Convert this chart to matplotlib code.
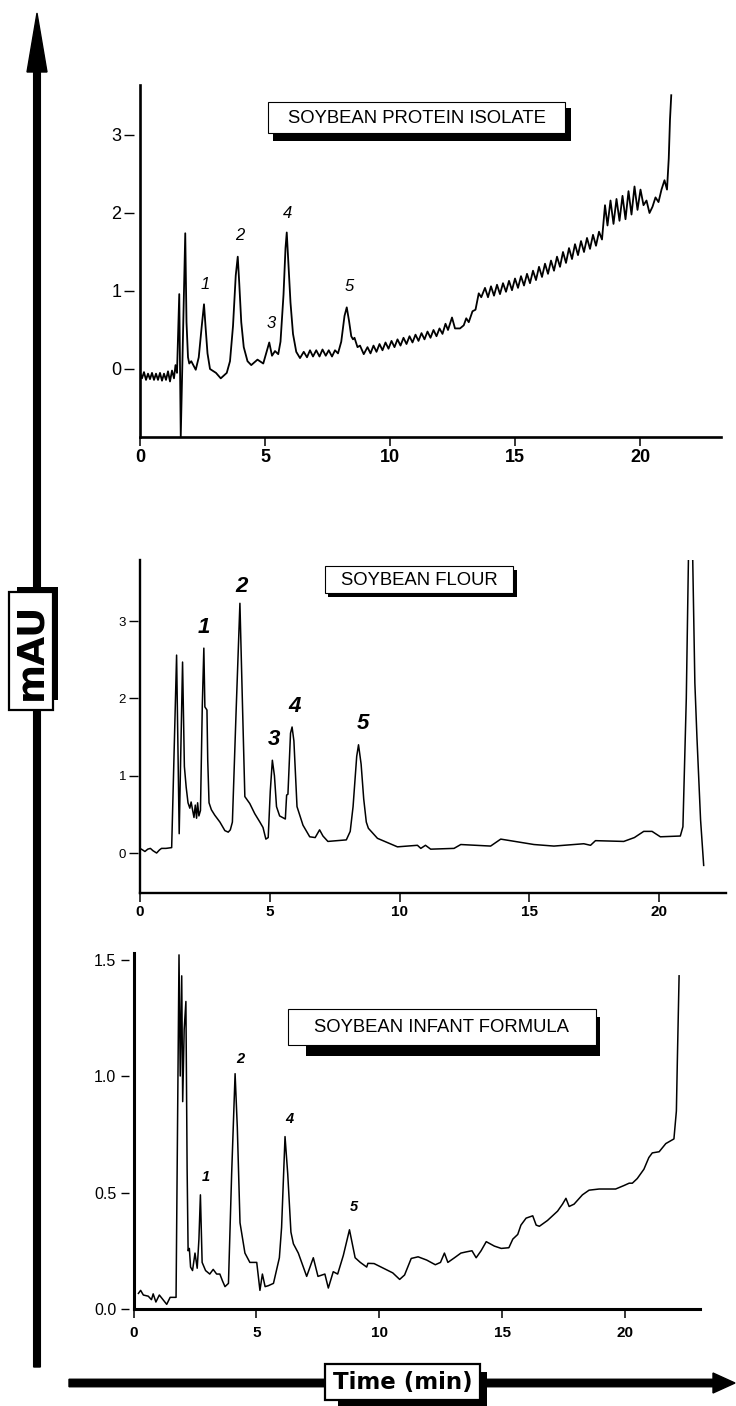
import matplotlib
matplotlib.use("Agg")
import matplotlib.pyplot as plt
from matplotlib import font_manager
from matplotlib.patches import Rectangle, FancyArrow

plt.rcParams['font.family'] = ['Liberation Sans', 'DejaVu Sans']

W, H = 736, 1406

# traces: (time [min], absorbance [mAU])
protein_trace = [
    (0.00, -0.05), (0.08, -0.12), (0.16, -0.04), (0.24, -0.14), (0.32, -0.06), (0.40, -0.13),
    (0.48, -0.05), (0.56, -0.14), (0.64, -0.06), (0.72, -0.14), (0.80, -0.05), (0.88, -0.15),
    (0.96, -0.06), (1.04, -0.14), (1.12, -0.03), (1.20, -0.16), (1.28, -0.02), (1.36, -0.12),
    (1.42, 0.05), (1.48, -0.05), (1.57, 0.96), (1.63, -0.87), (1.81, 1.74), (1.86, 0.60),
    (1.92, 0.15), (1.97, 0.07), (2.05, 0.10), (2.13, 0.05), (2.23, -0.01), (2.35, 0.15),
    (2.47, 0.55), (2.56, 0.83), (2.62, 0.55), (2.70, 0.20), (2.80, 0.00), (3.04, -0.05),
    (3.23, -0.12), (3.47, -0.05), (3.60, 0.10), (3.72, 0.55), (3.83, 1.20), (3.91, 1.44),
    (3.97, 1.10), (4.05, 0.60), (4.15, 0.28), (4.30, 0.10), (4.45, 0.05), (4.70, 0.12),
    (4.93, 0.07), (5.17, 0.34), (5.28, 0.17), (5.40, 0.23), (5.53, 0.19), (5.62, 0.35),
    (5.74, 0.95), (5.82, 1.55), (5.87, 1.75), (5.93, 1.40), (6.02, 0.85), (6.12, 0.45),
    (6.25, 0.22), (6.40, 0.14), (6.55, 0.22), (6.68, 0.15), (6.80, 0.24), (6.92, 0.16),
    (7.05, 0.24), (7.18, 0.16), (7.30, 0.25), (7.43, 0.17), (7.55, 0.24), (7.68, 0.16),
    (7.80, 0.24), (7.92, 0.20), (8.05, 0.35), (8.18, 0.68), (8.27, 0.79), (8.36, 0.62),
    (8.45, 0.42), (8.52, 0.38), (8.58, 0.40), (8.70, 0.28), (8.80, 0.30), (8.95, 0.19),
    (9.10, 0.28), (9.22, 0.20), (9.34, 0.30), (9.46, 0.22), (9.58, 0.32), (9.70, 0.24),
    (9.82, 0.34), (9.94, 0.26), (10.06, 0.36), (10.18, 0.28), (10.30, 0.38), (10.42, 0.30),
    (10.54, 0.40), (10.66, 0.32), (10.78, 0.42), (10.90, 0.34), (11.02, 0.44), (11.14, 0.36),
    (11.26, 0.46), (11.38, 0.38), (11.50, 0.48), (11.62, 0.40), (11.74, 0.50), (11.86, 0.42),
    (11.98, 0.52), (12.10, 0.45), (12.22, 0.58), (12.32, 0.50), (12.48, 0.66), (12.60, 0.52),
    (12.80, 0.52), (12.95, 0.56), (13.05, 0.65), (13.15, 0.60), (13.30, 0.74), (13.42, 0.76),
    (13.55, 0.97), (13.65, 0.92), (13.80, 1.04), (13.92, 0.92), (14.04, 1.06), (14.16, 0.94),
    (14.28, 1.08), (14.40, 0.96), (14.52, 1.10), (14.64, 0.99), (14.76, 1.13), (14.88, 1.01),
    (15.00, 1.16), (15.12, 1.04), (15.24, 1.19), (15.36, 1.07), (15.48, 1.22), (15.60, 1.10),
    (15.72, 1.26), (15.84, 1.14), (15.96, 1.31), (16.08, 1.18), (16.20, 1.35), (16.32, 1.22),
    (16.44, 1.39), (16.56, 1.26), (16.68, 1.44), (16.80, 1.31), (16.92, 1.50), (17.04, 1.36),
    (17.16, 1.55), (17.28, 1.41), (17.40, 1.60), (17.52, 1.46), (17.64, 1.64), (17.76, 1.50),
    (17.88, 1.68), (18.00, 1.54), (18.12, 1.72), (18.24, 1.58), (18.36, 1.76), (18.48, 1.66),
    (18.60, 2.10), (18.70, 1.84), (18.82, 2.16), (18.94, 1.86), (19.06, 2.18), (19.18, 1.90),
    (19.30, 2.22), (19.42, 1.92), (19.54, 2.28), (19.66, 1.98), (19.78, 2.34), (19.90, 2.04),
    (20.02, 2.30), (20.14, 2.10), (20.26, 2.16), (20.38, 2.00), (20.50, 2.08), (20.62, 2.20),
    (20.74, 2.14), (20.86, 2.30), (20.98, 2.42), (21.08, 2.30), (21.15, 2.70), (21.20, 3.20),
    (21.25, 3.51),
]

flour_trace = [
    (0.00, 0.06), (0.10, 0.04), (0.19, 0.02), (0.30, 0.05), (0.40, 0.06), (0.50, 0.03),
    (0.64, 0.00), (0.75, 0.04), (0.83, 0.06), (1.00, 0.06), (1.22, 0.07), (1.41, 2.56),
    (1.51, 0.25), (1.64, 2.47), (1.71, 1.12), (1.78, 0.85), (1.85, 0.65), (1.92, 0.58),
    (1.97, 0.66), (2.03, 0.55), (2.08, 0.46), (2.13, 0.62), (2.18, 0.45), (2.22, 0.65),
    (2.27, 0.48), (2.33, 0.55), (2.40, 1.90), (2.46, 2.65), (2.50, 1.89), (2.58, 1.85),
    (2.61, 1.20), (2.66, 0.65), (2.75, 0.56), (2.88, 0.49), (3.08, 0.40), (3.27, 0.29),
    (3.40, 0.27), (3.48, 0.30), (3.56, 0.40), (3.70, 1.80), (3.85, 3.23), (3.95, 1.90),
    (4.04, 0.73), (4.23, 0.64), (4.42, 0.51), (4.62, 0.40), (4.74, 0.33), (4.85, 0.18),
    (4.94, 0.20), (5.02, 0.80), (5.10, 1.20), (5.18, 1.00), (5.26, 0.60), (5.38, 0.48),
    (5.60, 0.44), (5.65, 0.75), (5.70, 0.76), (5.80, 1.55), (5.86, 1.63), (5.93, 1.45),
    (6.05, 0.60), (6.28, 0.36), (6.54, 0.21), (6.75, 0.20), (6.92, 0.30), (7.05, 0.22),
    (7.24, 0.15), (7.95, 0.17), (8.10, 0.28), (8.21, 0.60), (8.35, 1.25), (8.42, 1.40),
    (8.52, 1.15), (8.62, 0.70), (8.72, 0.40), (8.80, 0.32), (9.15, 0.19), (9.92, 0.08),
    (10.69, 0.10), (10.82, 0.06), (11.00, 0.10), (11.20, 0.05), (12.10, 0.06), (12.36, 0.11),
    (13.51, 0.09), (13.90, 0.18), (15.18, 0.11), (15.95, 0.09), (17.10, 0.12), (17.36, 0.10),
    (17.55, 0.16), (18.64, 0.15), (19.05, 0.20), (19.41, 0.28), (19.73, 0.28), (20.05, 0.21),
    (20.82, 0.22), (20.92, 0.34), (21.05, 2.00), (21.21, 5.50), (21.38, 2.20), (21.46, 1.50),
    (21.60, 0.43), (21.72, -0.16),
]

infant_trace = [
    (0.20, 0.067), (0.29, 0.08), (0.40, 0.06), (0.60, 0.055), (0.73, 0.04), (0.80, 0.065),
    (0.91, 0.03), (1.05, 0.06), (1.20, 0.04), (1.35, 0.02), (1.49, 0.05), (1.73, 0.05),
    (1.85, 1.52), (1.90, 1.00), (1.96, 1.43), (2.00, 0.89), (2.06, 1.20), (2.13, 1.32),
    (2.18, 0.60), (2.22, 0.25), (2.27, 0.26), (2.32, 0.18), (2.40, 0.165), (2.50, 0.24),
    (2.59, 0.175), (2.66, 0.30), (2.72, 0.49), (2.79, 0.20), (2.93, 0.165), (3.10, 0.15),
    (3.24, 0.17), (3.38, 0.15), (3.51, 0.15), (3.62, 0.12), (3.72, 0.096), (3.86, 0.11),
    (3.99, 0.58), (4.13, 1.01), (4.22, 0.78), (4.33, 0.37), (4.53, 0.24), (4.73, 0.20),
    (5.01, 0.20), (5.14, 0.08), (5.24, 0.15), (5.35, 0.096), (5.48, 0.10), (5.69, 0.11),
    (5.93, 0.22), (6.02, 0.35), (6.16, 0.74), (6.27, 0.58), (6.40, 0.33), (6.50, 0.28),
    (6.70, 0.24), (7.04, 0.14), (7.31, 0.22), (7.50, 0.14), (7.78, 0.15), (7.92, 0.09),
    (8.12, 0.16), (8.30, 0.15), (8.53, 0.23), (8.78, 0.34), (9.01, 0.22), (9.22, 0.20),
    (9.48, 0.18), (9.53, 0.196), (9.78, 0.195), (10.54, 0.155), (10.82, 0.127), (11.02, 0.146),
    (11.29, 0.217), (11.57, 0.224), (11.92, 0.21), (12.27, 0.19), (12.48, 0.20), (12.64, 0.24),
    (12.78, 0.20), (13.05, 0.22), (13.31, 0.24), (13.52, 0.245), (13.76, 0.25), (13.93, 0.22),
    (14.13, 0.25), (14.34, 0.289), (14.67, 0.27), (14.95, 0.26), (15.26, 0.263), (15.42, 0.30),
    (15.62, 0.32), (15.75, 0.36), (15.96, 0.39), (16.23, 0.40), (16.37, 0.36), (16.50, 0.355),
    (16.83, 0.38), (17.24, 0.42), (17.44, 0.45), (17.58, 0.475), (17.71, 0.44), (17.91, 0.45),
    (18.25, 0.49), (18.52, 0.51), (18.93, 0.515), (19.60, 0.515), (19.94, 0.53), (20.15, 0.54),
    (20.28, 0.54), (20.48, 0.56), (20.75, 0.60), (20.95, 0.65), (21.09, 0.67), (21.37, 0.675),
    (21.64, 0.71), (21.97, 0.73), (22.07, 0.85), (22.11, 1.07), (22.18, 1.43),
]

# peak numbers: (time, mAU, label)
protein_peaks = [(2.60, 1.08, "1"), (4.00, 1.71, "2"), (5.24, 0.58, "3"), (5.92, 1.99, "4"), (8.36, 1.06, "5")]
flour_peaks = [(2.47, 2.92, "1"), (3.93, 3.45, "2"), (5.16, 1.47, "3"), (5.97, 1.90, "4"), (8.59, 1.68, "5")]
infant_peaks = [(2.95, 0.567, "1"), (4.33, 1.073, "2"), (6.32, 0.815, "4"), (8.96, 0.438, "5")]

x_ticks = [0, 5, 10, 15, 20]
protein_yticks = [0, 1, 2, 3]
flour_yticks = [0, 1, 2, 3]
infant_yticks = [0.0, 0.5, 1.0, 1.5]

fig = plt.figure(figsize=(W / 100, H / 100), dpi=100)
fig.patch.set_facecolor('white')

have_narrow = 'Liberation Sans Narrow' in {f.name for f in font_manager.fontManager.ttflist}
if have_narrow:
    box_font = dict(family='Liberation Sans Narrow', fontsize=16)
else:
    box_font = dict(family='Liberation Sans', fontsize=13.3)


def fx(px):
    return px / W


def fy(py):
    return 1 - py / H


def panel(left, right, top, bottom, xmax, ymin, ymax, trace, yticks, ylabels,
          gap, ylen, ysize, ypad, xsize, xpad, spine_lw, line_lw):
    ax = fig.add_axes([fx(left), fy(bottom), fx(right) - fx(left), fy(top) - fy(bottom)])
    t, v = zip(*trace)
    ax.plot(t, v, color='black', lw=line_lw, solid_joinstyle='round')
    ax.set_xlim(0, xmax)
    ax.set_ylim(ymin, ymax)
    ax.spines[['top', 'right']].set_visible(False)
    ax.spines['bottom'].set_linewidth(spine_lw)
    ax.spines['left'].set_position(('outward', gap))
    ax.spines['left'].set_visible(False)
    ax.axvline(0, color='black', lw=spine_lw, clip_on=False)
    ax.set_xticks(x_ticks, [str(x) for x in x_ticks], fontweight='bold', fontsize=xsize)
    ax.set_yticks(yticks, ylabels, fontsize=ysize)
    ax.tick_params(axis='x', direction='out', length=6.5, width=1.1, pad=xpad)
    ax.tick_params(axis='y', direction='out', length=ylen, width=1.0, pad=ypad)
    ax.patch.set_alpha(0)
    return ax


ax1 = panel(140, 721, 85, 437, 23.24, -0.872, 3.641, protein_trace, protein_yticks,
            [str(y) for y in protein_yticks], gap=4.3, ylen=7.2, ysize=13, ypad=2,
            xsize=13, xpad=2, spine_lw=1.9, line_lw=1.3)
ax2 = panel(140, 726, 560, 893, 22.58, -0.517, 3.79, flour_trace, flour_yticks,
            [str(y) for y in flour_yticks], gap=1.5, ylen=6.5, ysize=9.5, ypad=2,
            xsize=11, xpad=2, spine_lw=1.7, line_lw=1.1)
ax3 = panel(133.5, 700, 953, 1309, 23.03, 0, 1.528, infant_trace, infant_yticks,
            [f"{y:.1f}" for y in infant_yticks], gap=3, ylen=6, ysize=11.5, ypad=3.5,
            xsize=11, xpad=6, spine_lw=2.2, line_lw=1.1)

for t, v, s in protein_peaks:
    ax1.text(t, v, s, ha='center', va='center', fontsize=12, style='italic')
for t, v, s in flour_peaks:
    ax2.text(t, v, s, ha='center', va='center', fontsize=16, style='italic', fontweight='bold')
for t, v, s in infant_peaks:
    ax3.text(t, v, s, ha='center', va='center', fontsize=10.5, style='italic', fontweight='bold')


def boxed_text(box, shadow, text, lw, dy=0, rotation=0, **kw):
    x0, y0, x1, y1 = shadow
    fig.add_artist(Rectangle((fx(x0), fy(y1)), fx(x1) - fx(x0), fy(y0) - fy(y1),
                             transform=fig.transFigure, facecolor='black',
                             edgecolor='none', zorder=5))
    x0, y0, x1, y1 = box
    fig.add_artist(Rectangle((fx(x0), fy(y1)), fx(x1) - fx(x0), fy(y0) - fy(y1),
                             transform=fig.transFigure, facecolor='white',
                             edgecolor='black', lw=lw, zorder=6))
    fig.text(fx((x0 + x1) / 2), fy((y0 + y1) / 2 + dy), text, ha='center', va='center',
             rotation=rotation, zorder=7, **kw)


boxed_text((268, 102, 565, 133), (273, 108, 571, 141), "SOYBEAN PROTEIN ISOLATE", 0.8, dy=1, **box_font)
boxed_text((325, 566, 513, 593), (328, 570, 517, 597), "SOYBEAN FLOUR", 0.8, dy=1, **box_font)
boxed_text((288, 1009, 596, 1045), (306, 1017, 600, 1056), "SOYBEAN INFANT FORMULA", 0.8, dy=1, **box_font)

# big axis arrows
fig.add_artist(FancyArrow(0.37, 0.39, 0, 13.54, width=0.067, head_width=0.20, head_length=0.59,
                          length_includes_head=True, transform=fig.dpi_scale_trans,
                          color='black', zorder=3))
fig.add_artist(FancyArrow(0.69, 0.23, 6.66, 0, width=0.075, head_width=0.20, head_length=0.22,
                          length_includes_head=True, transform=fig.dpi_scale_trans,
                          color='black', zorder=3))

boxed_text((9, 592, 53, 710), (17, 587, 58, 700), "mAU", 1.6, rotation=90,
           family='DejaVu Sans', fontsize=27, fontweight='bold')
boxed_text((325, 1364, 480, 1400), (338, 1372, 487, 1406), "Time (min)", 1.6, dy=1,
           family='DejaVu Sans', fontsize=16.5, fontweight='bold')

fig.savefig("out.png", dpi=100)
